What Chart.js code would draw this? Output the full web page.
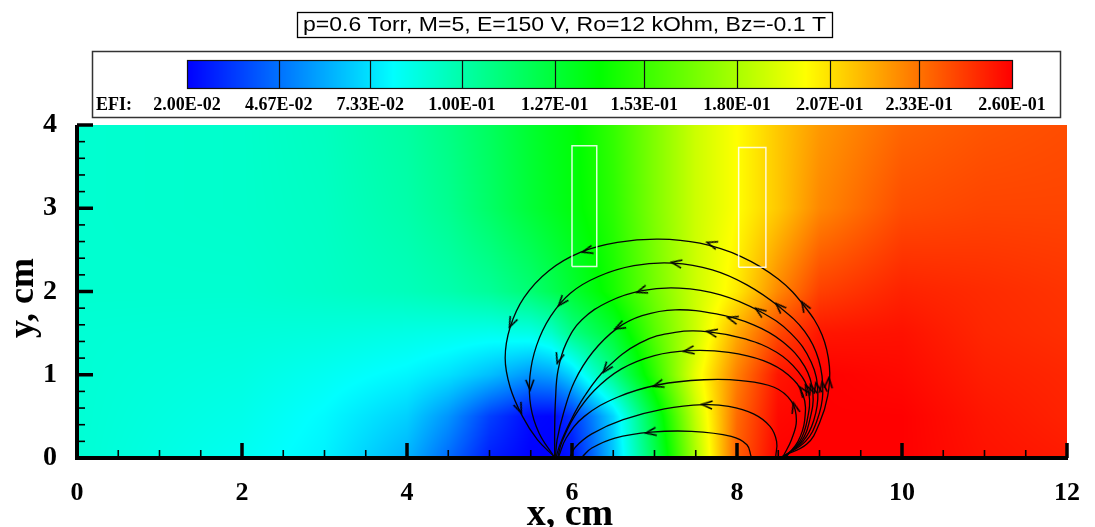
<!DOCTYPE html>
<html>
<head>
<meta charset="utf-8">
<script src="https://cdn.jsdelivr.net/npm/chart.js@4.4.1/dist/chart.umd.min.js"></script>
<style>
  html, body { margin: 0; padding: 0; background: #ffffff; }
  #wrap { width: 1095px; height: 527px; position: relative; }
</style>
</head>
<body>
<div id="wrap"><canvas id="c" width="1095" height="527"></canvas></div>
<script>
// ---- header and legend text ----
const titleText = 'p=0.6 Torr, M=5, E=150 V, Ro=12 kOhm, Bz=-0.1 T';
const legendName = 'EFI:';
const legendLevels = [0.02, 0.0467, 0.0733, 0.1, 0.127, 0.153, 0.18, 0.207, 0.233, 0.26];
const legendLabels = ['2.00E-02', '4.67E-02', '7.33E-02', '1.00E-01', '1.27E-01',
                      '1.53E-01', '1.80E-01', '2.07E-01', '2.33E-01', '2.60E-01'];

// ---- axes ----
const xTitle = 'x, cm';
const yTitle = 'y, cm';
const xMinorTicks = [0.5, 1, 1.5, 2.5, 3, 3.5, 4.5, 5, 5.5, 6.5, 7, 7.5, 8.5, 9, 9.5, 10.5, 11, 11.5];
const yMinorTicks = [0.2, 0.4, 0.6, 0.8, 1.2, 1.4, 1.6, 1.8, 2.2, 2.4, 2.6, 2.8, 3.2, 3.4, 3.6, 3.8];

// ---- EFI field sampled on a grid (cm) ----
const gridX = [0, 2, 3, 4, 4.5, 5, 5.5, 5.75, 6, 6.25, 6.5, 7, 7.5, 8, 8.5, 9, 10, 11, 12];
const gridY = [0, 0.5, 1, 1.5, 2, 3, 4];
const efiAtY0   = [0.090, 0.083, 0.077, 0.062, 0.045, 0.027, 0.020, 0.020, 0.024, 0.043, 0.066, 0.120, 0.180, 0.238, 0.260, 0.260, 0.260, 0.256, 0.254];
const efiAtY0_5 = [0.090, 0.085, 0.079, 0.069, 0.055, 0.035, 0.022, 0.021, 0.032, 0.050, 0.070, 0.128, 0.186, 0.235, 0.258, 0.260, 0.260, 0.255, 0.252];
const efiAtY1   = [0.090, 0.087, 0.083, 0.078, 0.073, 0.065, 0.055, 0.058, 0.070, 0.090, 0.108, 0.150, 0.195, 0.230, 0.255, 0.260, 0.258, 0.253, 0.251];
const efiAtY1_5 = [0.090, 0.089, 0.088, 0.086, 0.085, 0.084, 0.086, 0.092, 0.108, 0.118, 0.128, 0.160, 0.188, 0.220, 0.243, 0.255, 0.256, 0.251, 0.249];
const efiAtY2   = [0.091, 0.091, 0.093, 0.096, 0.099, 0.104, 0.113, 0.120, 0.128, 0.136, 0.145, 0.167, 0.188, 0.205, 0.228, 0.245, 0.252, 0.250, 0.248];
const efiAtY3   = [0.091, 0.092, 0.094, 0.100, 0.106, 0.116, 0.127, 0.132, 0.137, 0.143, 0.150, 0.170, 0.188, 0.200, 0.213, 0.228, 0.242, 0.244, 0.244];
const efiAtY4   = [0.091, 0.092, 0.095, 0.102, 0.109, 0.118, 0.129, 0.134, 0.138, 0.145, 0.152, 0.170, 0.188, 0.200, 0.213, 0.224, 0.236, 0.240, 0.242];
const efiRows = [efiAtY0, efiAtY0_5, efiAtY1, efiAtY1_5, efiAtY2, efiAtY3, efiAtY4];

// ---- electrodes (x0, y0, x1, y1 in cm) ----
const electrodeA = [6.0, 2.30, 6.30, 3.75];
const electrodeB = [8.02, 2.29, 8.35, 3.73];

// ---- streamlines, listed along the flow direction ----
const line1 = [[8.55,0.02],[8.85,0.17],[9.00,0.42],[9.10,0.75],[9.12,1.10],[9.03,1.48],[8.82,1.82],[8.50,2.15],[8.05,2.42],[7.55,2.58],[7.05,2.63],[6.55,2.59],[6.10,2.47],[5.72,2.25],[5.42,1.93],[5.25,1.57],[5.19,1.20],[5.25,0.85],[5.40,0.50],[5.58,0.22],[5.78,0.02]];
const line2 = [[8.56,0.02],[8.83,0.20],[8.97,0.45],[9.04,0.78],[8.99,1.18],[8.82,1.52],[8.52,1.81],[8.12,2.08],[7.70,2.26],[7.22,2.34],[6.75,2.31],[6.32,2.18],[5.98,1.98],[5.74,1.70],[5.57,1.35],[5.49,0.98],[5.50,0.62],[5.60,0.30],[5.78,0.02]];
const line3 = [[8.57,0.02],[8.80,0.20],[8.93,0.45],[8.98,0.78],[8.90,1.15],[8.65,1.50],[8.28,1.76],[7.80,1.96],[7.30,2.04],[6.85,2.01],[6.45,1.88],[6.12,1.66],[5.93,1.38],[5.83,1.05],[5.80,0.70],[5.79,0.35],[5.79,0.02]];
const line4 = [[8.58,0.02],[8.78,0.20],[8.88,0.45],[8.92,0.78],[8.82,1.10],[8.55,1.40],[8.20,1.60],[7.75,1.73],[7.25,1.78],[6.85,1.71],[6.55,1.56],[6.25,1.27],[6.03,0.92],[5.90,0.55],[5.82,0.22],[5.80,0.02]];
const line5 = [[8.59,0.02],[8.76,0.20],[8.85,0.45],[8.87,0.78],[8.74,1.04],[8.48,1.27],[8.10,1.43],[7.70,1.51],[7.25,1.51],[6.82,1.38],[6.42,1.08],[6.15,0.74],[5.96,0.40],[5.85,0.15],[5.81,0.02]];
const line6 = [[8.60,0.02],[8.74,0.20],[8.82,0.45],[8.80,0.76],[8.62,1.00],[8.32,1.17],[7.90,1.27],[7.42,1.29],[7.00,1.23],[6.60,1.07],[6.27,0.81],[6.03,0.50],[5.88,0.20],[5.83,0.02]];
const line7 = [[8.56,0.02],[8.66,0.22],[8.72,0.45],[8.66,0.68],[8.45,0.85],[8.05,0.93],[7.60,0.94],[7.05,0.88],[6.55,0.73],[6.15,0.50],[5.93,0.24],[5.84,0.02]];
const line8 = [[8.47,0.02],[8.48,0.20],[8.40,0.38],[8.20,0.53],[7.90,0.62],[7.60,0.64],[7.12,0.59],[6.62,0.46],[6.24,0.29],[6.04,0.13],[5.98,0.02]];
const line9 = [[8.17,0.02],[8.12,0.16],[7.93,0.26],[7.45,0.32],[6.96,0.31],[6.52,0.24],[6.24,0.12],[6.13,0.02]];
const streamlines = [line1, line2, line3, line4, line5, line6, line7, line8, line9];

// arrowheads: [streamline number, x, y]
const arrowMarks = [
  [1,7.70,2.57],[1,6.19,2.49],[1,8.82,1.82],[1,5.27,1.63],[1,5.36,0.60],[1,9.11,0.90],
  [2,7.27,2.34],[2,8.52,1.81],[2,5.88,1.88],[2,5.49,0.88],[2,9.04,0.85],
  [3,6.85,2.01],[3,8.28,1.76],[3,5.84,1.20],[3,8.97,0.84],
  [4,6.58,1.58],[4,7.95,1.67],[4,8.91,0.82],
  [5,7.70,1.51],[5,6.42,1.08],[5,8.86,0.82],
  [6,7.42,1.29],[6,8.80,0.80],
  [7,7.05,0.88],[7,8.70,0.60],
  [8,7.64,0.64],
  [9,6.96,0.31]
];

// ---- colour map: blue - cyan - green - yellow - red ----
const colourStops = [[0, [0, 0, 255]], [0.25, [0, 255, 255]], [0.5, [0, 255, 0]], [0.75, [255, 255, 0]], [1, [255, 0, 0]]];
function colourFor(v) {
  const lo = legendLevels[0], hi = legendLevels[legendLevels.length - 1];
  let t = (v - lo) / (hi - lo);
  t = Math.max(0, Math.min(1, t));
  for (let i = 0; i < colourStops.length - 1; i++) {
    const [t0, c0] = colourStops[i], [t1, c1] = colourStops[i + 1];
    if (t <= t1) {
      const f = (t - t0) / (t1 - t0);
      return [c0[0] + (c1[0] - c0[0]) * f, c0[1] + (c1[1] - c0[1]) * f, c0[2] + (c1[2] - c0[2]) * f];
    }
  }
  return colourStops[colourStops.length - 1][1];
}

function bracket(arr, v) {
  if (v <= arr[0]) return [0, 0];
  for (let i = 0; i < arr.length - 1; i++) {
    if (v <= arr[i + 1]) return [i, (v - arr[i]) / (arr[i + 1] - arr[i])];
  }
  return [arr.length - 2, 1];
}
function sampleField(xv, yv) {
  const [i, fx] = bracket(gridX, xv);
  const [j, fy] = bracket(gridY, yv);
  const r0 = efiRows[j], r1 = efiRows[Math.min(j + 1, efiRows.length - 1)];
  const a = r0[i] + (r0[i + 1] - r0[i]) * fx;
  const b = r1[i] + (r1[i + 1] - r1[i]) * fx;
  return a + (b - a) * fy;
}

// ---- flood fill of the field inside the plot area ----
const fieldPlugin = {
  id: 'efiField',
  beforeDatasetsDraw(chart) {
    const { ctx, chartArea: a, scales } = chart;
    const w = Math.ceil(a.right - a.left), h = Math.ceil(a.bottom - a.top);
    if (!this.cache || this.cache.width !== w || this.cache.height !== h) {
      const off = document.createElement('canvas');
      off.width = w; off.height = h;
      const octx = off.getContext('2d');
      const img = octx.createImageData(w, h);
      for (let j = 0; j < h; j++) {
        const yv = scales.y.getValueForPixel(a.top + j + 0.5);
        for (let i = 0; i < w; i++) {
          const xv = scales.x.getValueForPixel(a.left + i + 0.5);
          const c = colourFor(sampleField(xv, yv));
          const k = (j * w + i) * 4;
          img.data[k] = c[0]; img.data[k + 1] = c[1]; img.data[k + 2] = c[2]; img.data[k + 3] = 255;
        }
      }
      octx.putImageData(img, 0, 0);
      this.cache = off;
    }
    ctx.drawImage(this.cache, a.left, a.top);
  }
};

// ---- axis lines with inward ticks, titles, header box and colour legend ----
const framePlugin = {
  id: 'frame',
  afterDatasetsDraw(chart) {
    const { ctx, chartArea: a, scales: { x, y } } = chart;
    ctx.save();
    ctx.strokeStyle = '#000';
    ctx.lineCap = 'butt';
    ctx.lineWidth = 1.6;
    xMinorTicks.forEach(v => { const px = x.getPixelForValue(v); ctx.beginPath(); ctx.moveTo(px, a.bottom); ctx.lineTo(px, a.bottom - 8); ctx.stroke(); });
    yMinorTicks.forEach(v => { const py = y.getPixelForValue(v); ctx.beginPath(); ctx.moveTo(a.left, py); ctx.lineTo(a.left + 8, py); ctx.stroke(); });
    ctx.lineWidth = 3.5;
    x.ticks.forEach(t => { const px = x.getPixelForValue(t.value); ctx.beginPath(); ctx.moveTo(px, a.bottom); ctx.lineTo(px, a.bottom - 15); ctx.stroke(); });
    y.ticks.forEach(t => { const py = y.getPixelForValue(t.value); ctx.beginPath(); ctx.moveTo(a.left, py); ctx.lineTo(a.left + 16, py); ctx.stroke(); });
    ctx.lineWidth = 4;
    ctx.beginPath(); ctx.moveTo(a.left, a.top); ctx.lineTo(a.left, a.bottom + 2); ctx.stroke();
    ctx.beginPath(); ctx.moveTo(a.left - 2, a.bottom); ctx.lineTo(a.right + 1, a.bottom); ctx.stroke();
    ctx.restore();
  },
  afterDraw(chart) {
    const { ctx } = chart;
    ctx.save();
    ctx.fillStyle = '#000';
    // axis titles
    ctx.font = 'bold 38px "Liberation Serif"';
    ctx.textAlign = 'center'; ctx.textBaseline = 'alphabetic';
    ctx.fillText(xTitle, 570, 525);
    ctx.save();
    ctx.translate(24, 298);
    ctx.rotate(-Math.PI / 2);
    ctx.textBaseline = 'middle';
    ctx.font = 'bold 36px "Liberation Serif"';
    ctx.fillText(yTitle, 0, 0);
    ctx.restore();

    // header: text stretched to the box width
    ctx.textBaseline = 'middle';
    ctx.font = '21px "Liberation Sans"';
    const boxL = 297, boxR = 832, boxT = 12, boxB = 37;
    const tw = ctx.measureText(titleText).width;
    const sx = (boxR - boxL - 12) / tw;
    ctx.strokeStyle = '#000'; ctx.lineWidth = 1.3;
    ctx.strokeRect(boxL + 0.5, boxT + 0.5, boxR - boxL, boxB - boxT);
    ctx.save();
    ctx.translate((boxL + boxR) / 2, (boxT + boxB) / 2 + 1);
    ctx.scale(sx, 1);
    ctx.fillText(titleText, 0, 0);
    ctx.restore();

    // legend frame
    ctx.strokeStyle = '#333'; ctx.lineWidth = 1.5;
    ctx.strokeRect(92.5, 51.5, 968, 66);
    // colour bar
    const barL = 187, barR = 1012, barT = 60, barB = 88;
    const lo = legendLevels[0], hi = legendLevels[legendLevels.length - 1];
    for (let px = barL; px < barR; px++) {
      const v = lo + (px + 0.5 - barL) / (barR - barL) * (hi - lo);
      const c = colourFor(v);
      ctx.fillStyle = `rgb(${c[0] | 0},${c[1] | 0},${c[2] | 0})`;
      ctx.fillRect(px, barT, 1, barB - barT);
    }
    ctx.strokeStyle = '#111'; ctx.lineWidth = 1.2;
    ctx.strokeRect(barL + 0.5, barT + 0.5, barR - barL, barB - barT);
    ctx.fillStyle = '#000';
    ctx.font = 'bold 18px "Liberation Serif"';
    legendLevels.forEach((v, i) => {
      const px = barL + (v - lo) / (hi - lo) * (barR - barL);
      if (i > 0 && i < legendLevels.length - 1) {
        ctx.beginPath(); ctx.moveTo(Math.round(px) + 0.5, barT); ctx.lineTo(Math.round(px) + 0.5, barB); ctx.stroke();
      }
      ctx.textAlign = 'center';
      ctx.fillText(legendLabels[i], px, 105);
    });
    ctx.textAlign = 'left';
    ctx.fillText(legendName, 96, 105);
    ctx.restore();
  }
};

// ---- arrowhead symbol (points along +x before rotation) ----
const arrowHead = document.createElement('canvas');
arrowHead.width = 14; arrowHead.height = 12;
(function () {
  const g = arrowHead.getContext('2d');
  g.strokeStyle = '#000'; g.lineWidth = 1.4;
  g.beginPath(); g.moveTo(2, 2); g.lineTo(12.5, 6); g.lineTo(2, 10); g.stroke();
})();

function arrowAngle(ctx) {
  const raw = ctx.raw;
  if (!raw) return 0;
  const pts = streamlines[raw.line - 1];
  const xs = ctx.chart.scales.x, ys = ctx.chart.scales.y;
  let best = 0, bestD = Infinity;
  for (let i = 0; i < pts.length - 1; i++) {
    const mx = (pts[i][0] + pts[i + 1][0]) / 2, my = (pts[i][1] + pts[i + 1][1]) / 2;
    const d = (mx - raw.x) ** 2 + (my - raw.y) ** 2;
    if (d < bestD) { bestD = d; best = i; }
  }
  const p0 = pts[best], p1 = pts[best + 1];
  const dx = xs.getPixelForValue(p1[0]) - xs.getPixelForValue(p0[0]);
  const dy = ys.getPixelForValue(p1[1]) - ys.getPixelForValue(p0[1]);
  return Math.atan2(dy, dx) * 180 / Math.PI;
}

function rectPath(r) {
  return [{ x: r[0], y: r[1] }, { x: r[2], y: r[1] }, { x: r[2], y: r[3] }, { x: r[0], y: r[3] }, { x: r[0], y: r[1] }];
}

const datasets = [];
[electrodeA, electrodeB].forEach(r => datasets.push({
  data: rectPath(r), showLine: true, tension: 0, borderColor: 'rgba(255,255,255,0.85)', borderWidth: 1.5, pointRadius: 0
}));
streamlines.forEach(pts => datasets.push({
  data: pts.map(p => ({ x: p[0], y: p[1] })), showLine: true, tension: 0.4,
  borderColor: '#050505', borderWidth: 1.3, pointRadius: 0
}));
datasets.push({
  data: arrowMarks.map(m => ({ line: m[0], x: m[1], y: m[2] })),
  showLine: false, pointStyle: arrowHead, pointRadius: 7, pointRotation: arrowAngle
});

new Chart(document.getElementById('c'), {
  type: 'scatter',
  data: { datasets },
  options: {
    responsive: false,
    animation: false,
    events: [],
    layout: { padding: { top: 125, right: 28, left: 0, bottom: 0 } },
    plugins: { legend: { display: false }, tooltip: { enabled: false } },
    scales: {
      x: {
        type: 'linear', min: 0, max: 12,
        ticks: { stepSize: 2, color: '#000', padding: 12, font: { family: 'Liberation Serif', weight: 'bold', size: 26 } },
        grid: { display: false }, border: { display: false },
        afterFit: s => { s.height = 69; }
      },
      y: {
        type: 'linear', min: 0, max: 4,
        ticks: { stepSize: 1, color: '#000', padding: 12, font: { family: 'Liberation Serif', weight: 'bold', size: 28 } },
        grid: { display: false }, border: { display: false },
        afterFit: s => { s.width = 77; }
      }
    }
  },
  plugins: [fieldPlugin, framePlugin]
});
</script>
</body>
</html>
